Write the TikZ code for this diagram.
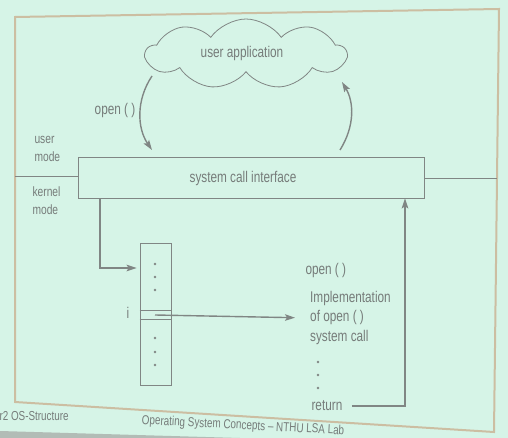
\documentclass[tikz,border=0pt]{standalone}
\usepackage{fontspec}
\setmainfont[FakeStretch=0.76]{Liberation Sans}
\usetikzlibrary{shapes.symbols,arrows.meta}
\definecolor{bgcol}{RGB}{214,244,231}
\definecolor{bandcol}{RGB}{178,188,182}
\definecolor{lncol}{RGB}{128,134,132}
\definecolor{txcol}{RGB}{118,124,122}
\definecolor{frcol}{RGB}{204,190,162}
\begin{document}
\begin{tikzpicture}[x=1pt,y=-1pt,
  every node/.style={text=txcol, font=\fontsize{15.5}{17}\selectfont},
  thinline/.style={draw=lncol, line width=0.8pt},
  conn/.style={draw=lncol, line width=1.4pt, -{Stealth[length=10pt,width=6.5pt,inset=2pt]}},
  dotmark/.style={circle, fill=lncol, inner sep=0pt, minimum size=2.6pt},
  foot/.style={text=txcol, font=\fontsize{13}{13}\selectfont}]
\useasboundingbox (0,0) rectangle (508,438);
\fill[bgcol] (0,0) rectangle (508,438);
\fill[bandcol] (0,431) -- (240,438) -- (0,438) -- cycle;
% frame
\draw[frcol, line width=2pt] (15,17) -- (499,9) -- (494,432) -- (15,402) -- cycle;

% cloud
\node[cloud, cloud puffs=9, cloud puff arc=110, aspect=2.8, thinline, minimum width=200pt, minimum height=70pt, inner sep=0pt] (app) at (246,54) {};
\node (applbl) at (242,53) {user application};

% system call interface
\node[thinline, rectangle, minimum width=346pt, minimum height=41pt, inner sep=0pt] (sci) at (251,177.5) {};
\node (scilbl) at (243,178) {system call interface};

% mode divider
\draw[thinline] (15,176) -- (sci.west |- 0,176);
\draw[thinline] (sci.east |- 0,178) -- (497,178);
\node[align=left, anchor=west, font=\fontsize{13.5}{18}\selectfont] (um) at (31,149) {user\\mode};
\node[align=left, anchor=west, font=\fontsize{13.5}{18}\selectfont] (km) at (29,201) {kernel\\mode};

% user <-> sci arrows
\coordinate (a1) at (152,76);
\coordinate (a2) at (152,150);
\draw[conn] (a1) .. controls (136,100) and (137,128) .. (a2);
\node (openlbl) at (115,110) {open ( )};
\coordinate (r1) at (340,150);
\coordinate (r2) at (342,82);
\draw[conn] (r1) .. controls (355,126) and (354,102) .. (r2);

% table
\node[thinline, rectangle, minimum width=31pt, minimum height=142pt, inner sep=0pt] (tbl) at (155.5,314) {};
\draw[thinline] (tbl.west |- 0,310) -- (tbl.east |- 0,310);
\draw[thinline] (tbl.west |- 0,319) -- (tbl.east |- 0,319);
\node (ilbl) at (128,313) {i};
\foreach \yy in {264,277,290,338,352,365}
  \node[dotmark] at (155,\yy) {};

% kernel arrow into table
\draw[conn, shorten >=3pt] (sci.south -| 100,0) |- (tbl.west |- 0,268);

% implementation text
\node[anchor=west] (openr) at (302,270) {open ( )};
\node[anchor=north west, align=left, font=\fontsize{15.5}{19.5}\selectfont, inner sep=0pt] (impl) at (310,291) {Implementation\\of open ( )\\system call};
\coordinate (istart) at (155,315);
\draw[conn, shorten >=15pt] (istart) -- (impl.west |- 0,318);
\foreach \yy in {362,375,388}
  \node[dotmark] at (318,\yy) {};
\node[anchor=west, inner ysep=0pt] (ret) at (308,406) {return};

% return arrow
\draw[conn] ([xshift=6pt]ret.east) -| (sci.south -| 405,0);

% footers
\node[foot, anchor=west] (f1) at (-4,416) {r2 OS-Structure};
\node[foot, rotate=-3, inner sep=0pt] (f2) at (243,426) {Operating System Concepts -- NTHU LSA Lab};
\end{tikzpicture}
\end{document}
